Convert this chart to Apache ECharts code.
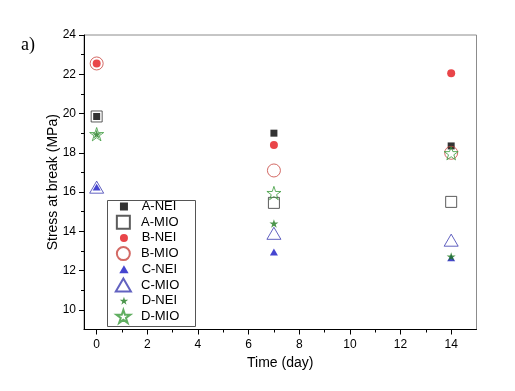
<!DOCTYPE html>
<html>
<head>
<meta charset="utf-8">
<script src="https://cdn.jsdelivr.net/npm/echarts@6/dist/echarts.min.js"></script>
<style>html,body{margin:0;padding:0;background:#fff}#c{width:515px;height:391px}</style>
</head>
<body>
<div id="c"></div>
<script>
// ---- data ----
const days = [0, 7, 14];
const seriesNames = ['A-NEI', 'A-MIO', 'B-NEI', 'B-MIO', 'C-NEI', 'C-MIO', 'D-NEI', 'D-MIO'];
const aNEI = [19.85, 19.0, 18.35];
const aMIO = [19.85, 15.45, 15.5];
const bNEI = [22.55, 18.4, 22.05];
const bMIO = [22.55, 17.1, 18.0];
const cNEI = [16.25, 12.95, 12.65];
const cMIO = [16.25, 13.9, 13.55];
const dNEI = [18.95, 14.4, 12.72];
const dMIO = [18.95, 15.95, 17.98];
const xTicks = [0, 2, 4, 6, 8, 10, 12, 14];
const yTicks = [10, 12, 14, 16, 18, 20, 22, 24];
const xLabel = 'Time (day)';
const yLabel = 'Stress at break (MPa)';
const panelLabel = 'a)';

const STAR = 'path://M50 0 L61.23 34.55 L97.55 34.55 L68.16 55.9 L79.39 90.45 L50 69.1 L20.61 90.45 L31.84 55.9 L2.45 34.55 L38.77 34.55 Z';
const SQUARE = 'path://M0 0 L100 0 L100 100 L0 100 Z';
const TRIANGLE = 'path://M50 0 L100 86 L0 86 Z';

const values = [aNEI, aMIO, bNEI, bMIO, cNEI, cMIO, dNEI, dMIO];
const styles = [
  {symbol: SQUARE, size: 7, fill: '#000000', stroke: null},
  {symbol: SQUARE, size: 11, fill: 'rgba(0,0,0,0)', stroke: '#333333'},
  {symbol: 'circle', size: 8, fill: '#e3161c', stroke: null},
  {symbol: 'circle', size: 13, fill: 'rgba(0,0,0,0)', stroke: '#c8453f'},
  {symbol: TRIANGLE, size: 8, fill: '#1616c4', stroke: null},
  {symbol: TRIANGLE, size: 14, fill: 'rgba(0,0,0,0)', stroke: '#3b3bb0'},
  {symbol: STAR, size: 9, fill: '#1f7a1f', stroke: null},
  {symbol: STAR, size: 14, fill: 'rgba(0,0,0,0)', stroke: '#3a9a3a'}
];

const series = seriesNames.map((name, k) => {
  const st = styles[k];
  return {
    name: name,
    type: 'scatter',
    xAxisIndex: 0, yAxisIndex: 0,
    symbol: st.symbol,
    symbolSize: st.size,
    symbolKeepAspect: true,
    itemStyle: st.stroke ? {color: st.fill, borderColor: st.stroke, borderWidth: 1} : {color: st.fill, borderWidth: 0},
    emphasis: {disabled: true},
    data: days.map((d, i) => [d, values[k][i]])
  };
});

// layout
const gl = 84, gr = 38.5, gt = 35, gb = 61.5;
const xMin = -0.5, xMax = 15, yMin = 9, yMax = 24;
const plotW = 515 - gl - gr, plotH = 391 - gt - gb;
const px = plotW / (xMax - xMin), py = plotH / (yMax - yMin);
const tickGridLeft = gl + (xTicks[0] - xMin) * px;
const tickGridRight = 515 - (gl + (xTicks[xTicks.length - 1] - xMin) * px);
const tickGridBottom = gb + (yTicks[0] - yMin) * py;

// legend: icon centre x and first row centre y
const legIconCx = 123.3, legRow0 = 206.5, legPitch = 15.7, legW = 25.4;
const filledH = 8, openH = 13;

const font = 'Liberation Sans, Arial, sans-serif';
const chart = echarts.init(document.getElementById('c'), null, {renderer: 'canvas'});
chart.setOption({
  animation: false,
  backgroundColor: '#fff',
  grid: [
    {left: gl, right: gr, top: gt, bottom: gb, show: true, borderColor: '#8c8c8c', borderWidth: 1, containLabel: false},
    {left: tickGridLeft, right: tickGridRight, top: gt, bottom: gb, show: false},
    {left: gl, right: gr, top: gt, bottom: tickGridBottom, show: false}
  ],
  xAxis: [
    {gridIndex: 0, type: 'value', min: xMin, max: xMax,
     axisLine: {show: true, onZero: false, lineStyle: {color: '#000', width: 1}},
     axisTick: {show: false}, axisLabel: {show: false}, splitLine: {show: false},
     name: xLabel, nameLocation: 'middle', nameGap: 27,
     nameTextStyle: {fontFamily: font, fontSize: 14, color: '#000'}},
    {gridIndex: 1, type: 'value', min: xTicks[0], max: xTicks[xTicks.length - 1], interval: xTicks[1] - xTicks[0],
     axisLine: {show: false, onZero: false},
     axisTick: {show: true, inside: false, length: 5, lineStyle: {color: '#000'}},
     minorTick: {show: true, splitNumber: 2, length: 3, lineStyle: {color: '#000'}},
     axisLabel: {show: true, margin: 9, fontFamily: font, fontSize: 12, color: '#000'},
     splitLine: {show: false}},
    {gridIndex: 2, type: 'value', min: xMin, max: xMax, show: false}
  ],
  yAxis: [
    {gridIndex: 0, type: 'value', min: yMin, max: yMax,
     axisLine: {show: true, onZero: false, lineStyle: {color: '#000', width: 1}},
     axisTick: {show: false}, axisLabel: {show: false}, splitLine: {show: false},
     name: yLabel, nameLocation: 'middle', nameGap: 24,
     nameTextStyle: {fontFamily: font, fontSize: 14, color: '#000'}},
    {gridIndex: 1, type: 'value', min: yMin, max: yMax, show: false},
    {gridIndex: 2, type: 'value', min: yTicks[0], max: yTicks[yTicks.length - 1], interval: yTicks[1] - yTicks[0],
     axisLine: {show: false, onZero: false},
     axisTick: {show: true, inside: false, length: 5, lineStyle: {color: '#000'}},
     minorTick: {show: true, splitNumber: 2, length: 3, lineStyle: {color: '#000'}},
     axisLabel: {show: true, margin: 8, fontFamily: font, fontSize: 12, color: '#000'},
     splitLine: {show: false}}
  ],
  legend: [
    {orient: 'vertical', left: legIconCx - filledH / 2, top: legRow0 - legPitch / 2, padding: 0, itemGap: legPitch,
     itemWidth: legW, itemHeight: filledH, selectedMode: false, symbolKeepAspect: true,
     data: seriesNames.filter((n, i) => i % 2 === 0),
     textStyle: {fontFamily: font, fontSize: 13, color: '#000', lineHeight: legPitch}},
    {orient: 'vertical', left: legIconCx - openH / 2 - 2, top: legRow0 + legPitch / 2, padding: 0, itemGap: legPitch,
     itemWidth: legW, itemHeight: openH, selectedMode: false, symbolKeepAspect: true,
     data: seriesNames.filter((n, i) => i % 2 === 1),
     textStyle: {fontFamily: font, fontSize: 13, color: '#000', lineHeight: legPitch}}
  ],
  graphic: [
    {type: 'rect', left: 105, top: 198, shape: {x: 0, y: 0, width: 88, height: 126},
     style: {fill: 'none', stroke: '#555', lineWidth: 1}, z: 10, silent: true},
    {type: 'text', left: 21, top: 36, style: {text: panelLabel, font: '18px "Liberation Serif", "Times New Roman", serif', fill: '#000'}, silent: true}
  ],
  series: series
});
</script>
</body>
</html>
